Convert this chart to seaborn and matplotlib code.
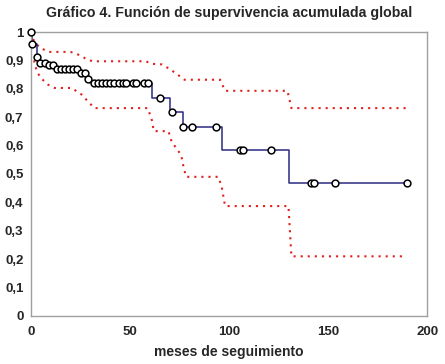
import matplotlib
matplotlib.use("Agg")
import matplotlib.pyplot as plt
import seaborn as sns
import numpy as np
import pandas as pd

# curva de Kaplan-Meier (escalones)
km_t = [0, 0.7, 2.8, 4.5, 8, 12, 24, 28.5, 30.5, 61, 70, 76.5, 96.5, 130.5, 189.7]
km_s = [1.0, 0.958, 0.912, 0.89, 0.883, 0.87, 0.855, 0.833, 0.82, 0.769, 0.717, 0.664, 0.585, 0.47, 0.47]

# observaciones (circulos)
cens_t = [0, 0.7, 3, 4.7, 7, 9, 11, 13, 15, 17, 19.2, 21.2, 23, 25, 27.3, 29,
          31.6, 33.7, 35.8, 37.9, 40, 42, 44.2, 46.2, 48, 51.5, 53, 56.9, 59.3,
          65.3, 71.4, 77, 81.3, 93.4, 105.6, 106.9, 121.4, 141.3, 143.1, 153.4, 189.7]
cens_s = [1.0, 0.958, 0.912, 0.89, 0.89, 0.883, 0.883, 0.87, 0.87, 0.87, 0.87, 0.87, 0.87,
          0.855, 0.855, 0.833,
          0.82, 0.82, 0.82, 0.82, 0.82, 0.82, 0.82, 0.82, 0.82, 0.82, 0.82, 0.82, 0.82,
          0.769, 0.717, 0.664, 0.664, 0.664, 0.585, 0.585, 0.585, 0.47, 0.47, 0.47, 0.47]

# intervalo de confianza
up_t = [1, 3, 6, 9, 20, 24, 28, 31, 58, 61, 66, 70, 75, 77.5, 95.5, 98, 129.5, 131.5, 190]
up_s = [0.975, 0.955, 0.94, 0.93, 0.93, 0.92, 0.905, 0.897, 0.897, 0.888, 0.886, 0.87,
        0.845, 0.832, 0.832, 0.793, 0.793, 0.732, 0.732]
lo_t = [1.5, 3, 5, 8.5, 12, 20.5, 25.5, 29.5, 32, 59, 61, 62, 69.4, 71, 75.8, 77, 78.3,
        94.6, 96.3, 98, 130, 131.5, 189.5]
lo_s = [0.9, 0.86, 0.838, 0.815, 0.803, 0.803, 0.78, 0.75, 0.732, 0.732, 0.69, 0.651,
        0.651, 0.614, 0.567, 0.526, 0.49, 0.49, 0.455, 0.387, 0.387, 0.21, 0.21]

x_ticks = [0, 50, 100, 150, 200]
y_ticks = [0, 0.1, 0.2, 0.3, 0.4, 0.5, 0.6, 0.7, 0.8, 0.9, 1.0]
y_labels = ["0", "0,1", "0,2", "0,3", "0,4", "0,5", "0,6", "0,7", "0,8", "0,9", "1"]

sns.set_style("white")
plt.rcParams["font.family"] = ["Liberation Sans", "DejaVu Sans"]

fig = plt.figure(figsize=(4.45, 3.64), dpi=100)
ax = fig.add_axes([0.0697, 0.132, 0.89, 0.78])

red = "#e0201c"
sns.lineplot(x=up_t, y=up_s, ax=ax, sort=False, estimator=None, color=red,
             linestyle=(0, (1, 2.4)), linewidth=1.5)
sns.lineplot(x=lo_t, y=lo_s, ax=ax, sort=False, estimator=None, color=red,
             linestyle=(0, (1, 2.4)), linewidth=1.5)
sns.lineplot(x=km_t, y=km_s, ax=ax, sort=False, estimator=None, color="#2a2a80",
             linewidth=1.1, drawstyle="steps-post")
sns.scatterplot(x=cens_t, y=cens_s, ax=ax, s=24, facecolor="white",
                edgecolor="black", linewidth=1.1, zorder=5, clip_on=False)

ax.set_xlim(0, 200)
ax.set_ylim(0, 1)
ax.set_xticks(x_ticks)
ax.set_yticks(y_ticks)
ax.set_yticklabels(y_labels)
ax.tick_params(axis="both", direction="out", length=3.5, width=0.8, color="#888888",
               labelsize=9.5)
ax.tick_params(axis="x", pad=4)
ax.tick_params(axis="y", pad=2)
for lab in ax.get_xticklabels() + ax.get_yticklabels():
    lab.set_fontweight("bold")
for sp in ax.spines.values():
    sp.set_color("#a0a0a0")
    sp.set_linewidth(1.0)

ax.set_xlabel("meses de seguimiento", fontsize=10, fontweight="bold", labelpad=5)
fig.text(0.516, 0.965, "Gráfico 4. Función de supervivencia acumulada global",
         ha="center", va="center", fontsize=10.2, fontweight="bold")

fig.savefig("out.png", dpi=100)
